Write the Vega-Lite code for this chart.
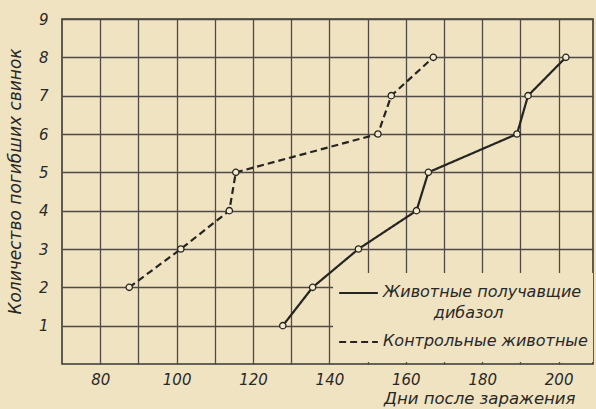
{
  "$schema": "https://vega.github.io/schema/vega-lite/v6.json",
  "autosize": {"type": "none"},
  "padding": {"left": 62, "top": 19, "right": 3, "bottom": 45},
  "width": 531,
  "height": 345,
  "background": "#efe3c2",
  "config": {
    "view": {"stroke": "#3a3836", "strokeWidth": 1.6},
    "font": "DejaVu Sans"
  },
  "data": {
    "values": [
      {"group": "Животные получавщие дибазол", "days": 127.8, "dead": 1},
      {"group": "Животные получавщие дибазол", "days": 135.6, "dead": 2},
      {"group": "Животные получавщие дибазол", "days": 147.6, "dead": 3},
      {"group": "Животные получавщие дибазол", "days": 162.8, "dead": 4},
      {"group": "Животные получавщие дибазол", "days": 165.9, "dead": 5},
      {"group": "Животные получавщие дибазол", "days": 189.1, "dead": 6},
      {"group": "Животные получавщие дибазол", "days": 192.0, "dead": 7},
      {"group": "Животные получавщие дибазол", "days": 201.9, "dead": 8},
      {"group": "Контрольные животные", "days": 87.6, "dead": 2},
      {"group": "Контрольные животные", "days": 101.1, "dead": 3},
      {"group": "Контрольные животные", "days": 113.8, "dead": 4},
      {"group": "Контрольные животные", "days": 115.5, "dead": 5},
      {"group": "Контрольные животные", "days": 152.7, "dead": 6},
      {"group": "Контрольные животные", "days": 156.2, "dead": 7},
      {"group": "Контрольные животные", "days": 167.2, "dead": 8}
    ]
  },
  "encoding": {
    "x": {
      "field": "days", "type": "quantitative",
      "scale": {"domain": [70, 209], "nice": false, "zero": false},
      "axis": {
        "title": "Дни после заражения",
        "values": [80, 90, 100, 110, 120, 130, 140, 150, 160, 170, 180, 190, 200],
        "labelExpr": "datum.value % 20 == 0 ? datum.label : ''",
        "ticks": false, "domain": false,
        "grid": true, "gridColor": "#4f4a45", "gridWidth": 1.3, "gridOpacity": 1,
        "labelFont": "DejaVu Sans", "labelFontStyle": "italic", "labelFontSize": 15, "labelColor": "#2a2826",
        "labelPadding": 8, "labelFlush": false,
        "titleFont": "DejaVu Sans", "titleFontStyle": "italic", "titleFontWeight": "normal", "titleFontSize": 16.5, "titleColor": "#2a2826",
        "titleAlign": "right", "titleAnchor": null, "titleX": 513, "titleY": 26, "titleBaseline": "top"
      }
    },
    "y": {
      "field": "dead", "type": "quantitative",
      "scale": {"domain": [0, 9], "nice": false},
      "axis": {
        "title": "Количество погибших свинок",
        "values": [1, 2, 3, 4, 5, 6, 7, 8, 9],
        "ticks": false, "domain": false,
        "grid": true, "gridColor": "#4f4a45", "gridWidth": 1.3, "gridOpacity": 1,
        "labelFont": "DejaVu Sans", "labelFontStyle": "italic", "labelFontSize": 15, "labelColor": "#2a2826",
        "labelPadding": 14, "labelFlush": false,
        "titleFont": "DejaVu Sans", "titleFontStyle": "italic", "titleFontWeight": "normal", "titleFontSize": 17, "titleColor": "#2a2826",
        "titleAngle": -90, "titleX": -47, "titleY": 162, "titleBaseline": "middle", "titleAlign": "center"
      }
    }
  },
  "layer": [
    {
      "mark": {"type": "line", "color": "#262422", "strokeWidth": 2.2},
      "encoding": {
        "strokeDash": {
          "field": "group", "type": "nominal",
          "scale": {"domain": ["Животные получавщие дибазол", "Контрольные животные"], "range": [[1, 0], [7, 4]]},
          "legend": {
            "orient": "none", "legendX": 271, "legendY": 254,
            "title": null,
            "fillColor": "#efe3c2",
            "padding": 5,
            "clipHeight": 30,
            "symbolType": "stroke", "symbolSize": 1500, "symbolStrokeWidth": 2.2, "symbolStrokeColor": "#262422",
            "labelExpr": "datum.value == 'Животные получавщие дибазол' ? ['Животные получавщие', '\u200b\u00a0\u00a0\u00a0\u00a0\u00a0\u00a0\u00a0\u00a0\u00a0\u00a0дибазол'] : datum.label",
            "labelFont": "DejaVu Sans", "labelFontStyle": "italic", "labelFontSize": 16, "labelColor": "#2a2826",
            "labelLimit": 400, "labelOffset": 4, "rowPadding": 6,
            "labelBaseline": "top",
            "encode": {
              "labels": {"update": {"dy": {"value": -9}, "lineHeight": {"value": 21}}}
            }
          }
        }
      }
    },
    {
      "mark": {"type": "point", "shape": "circle", "filled": true, "fill": "#f3e9cc", "stroke": "#262422", "strokeWidth": 1.3, "size": 40, "opacity": 1},
      "encoding": {"detail": {"field": "group", "type": "nominal"}}
    }
  ]
}
